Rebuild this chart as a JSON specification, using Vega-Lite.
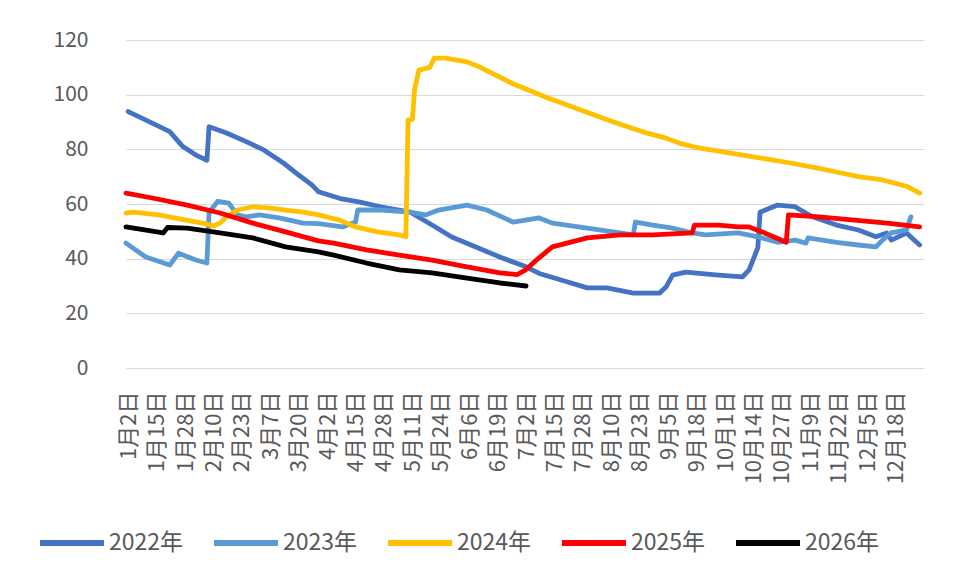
{
  "$schema": "https://vega.github.io/schema/vega-lite/v6.json",
  "autosize": {"type": "none"},
  "width": 798,
  "height": 328,
  "padding": {"left": 126, "top": 40, "right": 36, "bottom": 217},
  "background": "white",
  "config": {
    "view": {"stroke": null},
    "font": "Noto Sans CJK SC"
  },
  "data": {
    "values": [
      {"d": "2024-01-02", "s": "2022年", "v": 93.8},
      {"d": "2024-01-13", "s": "2022年", "v": 89.6},
      {"d": "2024-01-21", "s": "2022年", "v": 86.5},
      {"d": "2024-01-27", "s": "2022年", "v": 81.0},
      {"d": "2024-02-02", "s": "2022年", "v": 77.9},
      {"d": "2024-02-07", "s": "2022年", "v": 76.0},
      {"d": "2024-02-08", "s": "2022年", "v": 88.3},
      {"d": "2024-02-16", "s": "2022年", "v": 86.0},
      {"d": "2024-02-25", "s": "2022年", "v": 82.8},
      {"d": "2024-03-04", "s": "2022年", "v": 79.8},
      {"d": "2024-03-13", "s": "2022年", "v": 75.0},
      {"d": "2024-03-20", "s": "2022年", "v": 70.6},
      {"d": "2024-03-26", "s": "2022年", "v": 67.0},
      {"d": "2024-03-29", "s": "2022年", "v": 64.5},
      {"d": "2024-04-08", "s": "2022年", "v": 62.0},
      {"d": "2024-04-17", "s": "2022年", "v": 60.7},
      {"d": "2024-04-27", "s": "2022年", "v": 58.9},
      {"d": "2024-05-10", "s": "2022年", "v": 57.0},
      {"d": "2024-05-20", "s": "2022年", "v": 52.3},
      {"d": "2024-05-29", "s": "2022年", "v": 47.9},
      {"d": "2024-06-09", "s": "2022年", "v": 44.3},
      {"d": "2024-06-20", "s": "2022年", "v": 40.6},
      {"d": "2024-07-02", "s": "2022年", "v": 37.0},
      {"d": "2024-07-08", "s": "2022年", "v": 34.6},
      {"d": "2024-07-18", "s": "2022年", "v": 32.2},
      {"d": "2024-07-30", "s": "2022年", "v": 29.3},
      {"d": "2024-08-08", "s": "2022年", "v": 29.3},
      {"d": "2024-08-20", "s": "2022年", "v": 27.4},
      {"d": "2024-09-01", "s": "2022年", "v": 27.4},
      {"d": "2024-09-04", "s": "2022年", "v": 29.6},
      {"d": "2024-09-07", "s": "2022年", "v": 34.0},
      {"d": "2024-09-13", "s": "2022年", "v": 35.1},
      {"d": "2024-09-28", "s": "2022年", "v": 34.0},
      {"d": "2024-10-09", "s": "2022年", "v": 33.3},
      {"d": "2024-10-12", "s": "2022年", "v": 35.9},
      {"d": "2024-10-16", "s": "2022年", "v": 44.0},
      {"d": "2024-10-17", "s": "2022年", "v": 57.0},
      {"d": "2024-10-25", "s": "2022年", "v": 59.6},
      {"d": "2024-11-02", "s": "2022年", "v": 59.0},
      {"d": "2024-11-10", "s": "2022年", "v": 55.3},
      {"d": "2024-11-21", "s": "2022年", "v": 52.3},
      {"d": "2024-12-01", "s": "2022年", "v": 50.5},
      {"d": "2024-12-09", "s": "2022年", "v": 48.0},
      {"d": "2024-12-14", "s": "2022年", "v": 49.4},
      {"d": "2024-12-16", "s": "2022年", "v": 46.8},
      {"d": "2024-12-23", "s": "2022年", "v": 49.4},
      {"d": "2024-12-29", "s": "2022年", "v": 45.0},

      {"d": "2024-01-01", "s": "2023年", "v": 45.7},
      {"d": "2024-01-10", "s": "2023年", "v": 40.6},
      {"d": "2024-01-21", "s": "2023年", "v": 37.7},
      {"d": "2024-01-25", "s": "2023年", "v": 42.0},
      {"d": "2024-02-02", "s": "2023年", "v": 39.5},
      {"d": "2024-02-07", "s": "2023年", "v": 38.4},
      {"d": "2024-02-08", "s": "2023年", "v": 57.0},
      {"d": "2024-02-12", "s": "2023年", "v": 61.0},
      {"d": "2024-02-17", "s": "2023年", "v": 60.3},
      {"d": "2024-02-21", "s": "2023年", "v": 56.0},
      {"d": "2024-02-25", "s": "2023年", "v": 55.3},
      {"d": "2024-03-02", "s": "2023年", "v": 56.0},
      {"d": "2024-03-11", "s": "2023年", "v": 54.9},
      {"d": "2024-03-22", "s": "2023年", "v": 53.0},
      {"d": "2024-03-29", "s": "2023年", "v": 52.8},
      {"d": "2024-04-09", "s": "2023年", "v": 51.6},
      {"d": "2024-04-15", "s": "2023年", "v": 53.4},
      {"d": "2024-04-16", "s": "2023年", "v": 57.8},
      {"d": "2024-04-27", "s": "2023年", "v": 57.8},
      {"d": "2024-05-10", "s": "2023年", "v": 57.0},
      {"d": "2024-05-17", "s": "2023年", "v": 56.0},
      {"d": "2024-05-23", "s": "2023年", "v": 57.8},
      {"d": "2024-06-05", "s": "2023年", "v": 59.6},
      {"d": "2024-06-14", "s": "2023年", "v": 57.8},
      {"d": "2024-06-26", "s": "2023年", "v": 53.4},
      {"d": "2024-07-08", "s": "2023年", "v": 54.9},
      {"d": "2024-07-14", "s": "2023年", "v": 53.0},
      {"d": "2024-07-30", "s": "2023年", "v": 51.2},
      {"d": "2024-08-14", "s": "2023年", "v": 49.4},
      {"d": "2024-08-20", "s": "2023年", "v": 48.7},
      {"d": "2024-08-21", "s": "2023年", "v": 53.4},
      {"d": "2024-08-29", "s": "2023年", "v": 52.3},
      {"d": "2024-09-07", "s": "2023年", "v": 51.2},
      {"d": "2024-09-16", "s": "2023年", "v": 49.4},
      {"d": "2024-09-22", "s": "2023年", "v": 48.7},
      {"d": "2024-10-07", "s": "2023年", "v": 49.4},
      {"d": "2024-10-16", "s": "2023年", "v": 48.0},
      {"d": "2024-10-25", "s": "2023年", "v": 46.0},
      {"d": "2024-11-02", "s": "2023年", "v": 46.8},
      {"d": "2024-11-07", "s": "2023年", "v": 45.7},
      {"d": "2024-11-08", "s": "2023年", "v": 47.6},
      {"d": "2024-11-21", "s": "2023年", "v": 46.0},
      {"d": "2024-12-01", "s": "2023年", "v": 45.0},
      {"d": "2024-12-09", "s": "2023年", "v": 44.3},
      {"d": "2024-12-12", "s": "2023年", "v": 46.8},
      {"d": "2024-12-16", "s": "2023年", "v": 49.4},
      {"d": "2024-12-23", "s": "2023年", "v": 50.5},
      {"d": "2024-12-25", "s": "2023年", "v": 55.3},

      {"d": "2024-01-01", "s": "2024年", "v": 56.7},
      {"d": "2024-01-04", "s": "2024年", "v": 57.0},
      {"d": "2024-01-16", "s": "2024年", "v": 56.0},
      {"d": "2024-01-29", "s": "2024年", "v": 54.0},
      {"d": "2024-02-05", "s": "2024年", "v": 53.0},
      {"d": "2024-02-10", "s": "2024年", "v": 52.0},
      {"d": "2024-02-13", "s": "2024年", "v": 53.0},
      {"d": "2024-02-16", "s": "2024年", "v": 55.3},
      {"d": "2024-02-21", "s": "2024年", "v": 57.8},
      {"d": "2024-02-28", "s": "2024年", "v": 59.0},
      {"d": "2024-03-07", "s": "2024年", "v": 58.5},
      {"d": "2024-03-14", "s": "2024年", "v": 57.8},
      {"d": "2024-03-22", "s": "2024年", "v": 57.0},
      {"d": "2024-03-29", "s": "2024年", "v": 56.0},
      {"d": "2024-04-08", "s": "2024年", "v": 54.0},
      {"d": "2024-04-15", "s": "2024年", "v": 51.6},
      {"d": "2024-04-25", "s": "2024年", "v": 49.8},
      {"d": "2024-05-05", "s": "2024年", "v": 48.7},
      {"d": "2024-05-08", "s": "2024年", "v": 48.0},
      {"d": "2024-05-09", "s": "2024年", "v": 90.7},
      {"d": "2024-05-11", "s": "2024年", "v": 91.0},
      {"d": "2024-05-12", "s": "2024年", "v": 102.0},
      {"d": "2024-05-14", "s": "2024年", "v": 109.0},
      {"d": "2024-05-19", "s": "2024年", "v": 110.0},
      {"d": "2024-05-21", "s": "2024年", "v": 113.4},
      {"d": "2024-05-26", "s": "2024年", "v": 113.4},
      {"d": "2024-06-05", "s": "2024年", "v": 112.0},
      {"d": "2024-06-11", "s": "2024年", "v": 110.0},
      {"d": "2024-06-26", "s": "2024年", "v": 104.0},
      {"d": "2024-07-12", "s": "2024年", "v": 98.8},
      {"d": "2024-07-27", "s": "2024年", "v": 94.4},
      {"d": "2024-08-11", "s": "2024年", "v": 90.0},
      {"d": "2024-08-26", "s": "2024年", "v": 86.0},
      {"d": "2024-09-04", "s": "2024年", "v": 84.1},
      {"d": "2024-09-10", "s": "2024年", "v": 82.3},
      {"d": "2024-09-19", "s": "2024年", "v": 80.5},
      {"d": "2024-10-12", "s": "2024年", "v": 77.5},
      {"d": "2024-10-31", "s": "2024年", "v": 75.0},
      {"d": "2024-11-13", "s": "2024年", "v": 73.0},
      {"d": "2024-11-21", "s": "2024年", "v": 71.7},
      {"d": "2024-12-01", "s": "2024年", "v": 70.0},
      {"d": "2024-12-12", "s": "2024年", "v": 68.8},
      {"d": "2024-12-23", "s": "2024年", "v": 66.5},
      {"d": "2024-12-29", "s": "2024年", "v": 64.0},

      {"d": "2024-01-01", "s": "2025年", "v": 64.0},
      {"d": "2024-01-13", "s": "2025年", "v": 62.2},
      {"d": "2024-01-29", "s": "2025年", "v": 59.6},
      {"d": "2024-02-13", "s": "2025年", "v": 56.7},
      {"d": "2024-02-28", "s": "2025年", "v": 53.0},
      {"d": "2024-03-14", "s": "2025年", "v": 49.8},
      {"d": "2024-03-29", "s": "2025年", "v": 46.5},
      {"d": "2024-04-05", "s": "2025年", "v": 45.7},
      {"d": "2024-04-20", "s": "2025年", "v": 43.2},
      {"d": "2024-05-05", "s": "2025年", "v": 41.3},
      {"d": "2024-05-20", "s": "2025年", "v": 39.5},
      {"d": "2024-06-05", "s": "2025年", "v": 37.0},
      {"d": "2024-06-20", "s": "2025年", "v": 34.8},
      {"d": "2024-06-28", "s": "2025年", "v": 34.2},
      {"d": "2024-07-02", "s": "2025年", "v": 36.0},
      {"d": "2024-07-06", "s": "2025年", "v": 39.0},
      {"d": "2024-07-14", "s": "2025年", "v": 44.3},
      {"d": "2024-07-30", "s": "2025年", "v": 47.6},
      {"d": "2024-08-14", "s": "2025年", "v": 48.7},
      {"d": "2024-08-29", "s": "2025年", "v": 48.7},
      {"d": "2024-09-16", "s": "2025年", "v": 49.4},
      {"d": "2024-09-17", "s": "2025年", "v": 52.3},
      {"d": "2024-09-28", "s": "2025年", "v": 52.3},
      {"d": "2024-10-07", "s": "2025年", "v": 51.6},
      {"d": "2024-10-12", "s": "2025年", "v": 51.6},
      {"d": "2024-10-18", "s": "2025年", "v": 49.8},
      {"d": "2024-10-29", "s": "2025年", "v": 46.0},
      {"d": "2024-10-30", "s": "2025年", "v": 56.0},
      {"d": "2024-11-13", "s": "2025年", "v": 55.3},
      {"d": "2024-11-28", "s": "2025年", "v": 54.2},
      {"d": "2024-12-14", "s": "2025年", "v": 53.0},
      {"d": "2024-12-29", "s": "2025年", "v": 51.6},

      {"d": "2024-01-01", "s": "2026年", "v": 51.6},
      {"d": "2024-01-18", "s": "2026年", "v": 49.4},
      {"d": "2024-01-20", "s": "2026年", "v": 51.4},
      {"d": "2024-01-29", "s": "2026年", "v": 51.2},
      {"d": "2024-02-13", "s": "2026年", "v": 49.4},
      {"d": "2024-02-28", "s": "2026年", "v": 47.6},
      {"d": "2024-03-14", "s": "2026年", "v": 44.3},
      {"d": "2024-03-29", "s": "2026年", "v": 42.5},
      {"d": "2024-04-05", "s": "2026年", "v": 41.3},
      {"d": "2024-04-20", "s": "2026年", "v": 38.4},
      {"d": "2024-05-05", "s": "2026年", "v": 35.9},
      {"d": "2024-05-20", "s": "2026年", "v": 34.8},
      {"d": "2024-06-05", "s": "2026年", "v": 32.9},
      {"d": "2024-06-20", "s": "2026年", "v": 31.1},
      {"d": "2024-07-02", "s": "2026年", "v": 30.0}
    ]
  },
  "mark": {"type": "line", "strokeWidth": 4.8, "strokeCap": "round", "strokeJoin": "round"},
  "encoding": {
    "x": {
      "field": "d",
      "type": "temporal",
      "scale": {
        "type": "utc",
        "domain": [
          {"year": 2024, "month": 1, "date": 1, "utc": true},
          {"year": 2024, "month": 12, "date": 31, "utc": true}
        ]
      },
      "axis": {
        "title": null,
        "domain": false,
        "ticks": false,
        "grid": false,
        "labelAngle": -90,
        "labelFontSize": 22,
        "labelColor": "#595959",
        "labelPadding": 23,
        "labelOverlap": false,
        "labelFlush": false,
        "labelExpr": "utcFormat(datum.value, '%-m月%-d日')",
        "values": [
          {"year": 2024, "month": 1, "date": 2, "utc": true},
          {"year": 2024, "month": 1, "date": 15, "utc": true},
          {"year": 2024, "month": 1, "date": 28, "utc": true},
          {"year": 2024, "month": 2, "date": 10, "utc": true},
          {"year": 2024, "month": 2, "date": 23, "utc": true},
          {"year": 2024, "month": 3, "date": 7, "utc": true},
          {"year": 2024, "month": 3, "date": 20, "utc": true},
          {"year": 2024, "month": 4, "date": 2, "utc": true},
          {"year": 2024, "month": 4, "date": 15, "utc": true},
          {"year": 2024, "month": 4, "date": 28, "utc": true},
          {"year": 2024, "month": 5, "date": 11, "utc": true},
          {"year": 2024, "month": 5, "date": 24, "utc": true},
          {"year": 2024, "month": 6, "date": 6, "utc": true},
          {"year": 2024, "month": 6, "date": 19, "utc": true},
          {"year": 2024, "month": 7, "date": 2, "utc": true},
          {"year": 2024, "month": 7, "date": 15, "utc": true},
          {"year": 2024, "month": 7, "date": 28, "utc": true},
          {"year": 2024, "month": 8, "date": 10, "utc": true},
          {"year": 2024, "month": 8, "date": 23, "utc": true},
          {"year": 2024, "month": 9, "date": 5, "utc": true},
          {"year": 2024, "month": 9, "date": 18, "utc": true},
          {"year": 2024, "month": 10, "date": 1, "utc": true},
          {"year": 2024, "month": 10, "date": 14, "utc": true},
          {"year": 2024, "month": 10, "date": 27, "utc": true},
          {"year": 2024, "month": 11, "date": 9, "utc": true},
          {"year": 2024, "month": 11, "date": 22, "utc": true},
          {"year": 2024, "month": 12, "date": 5, "utc": true},
          {"year": 2024, "month": 12, "date": 18, "utc": true}
        ]
      }
    },
    "y": {
      "field": "v",
      "type": "quantitative",
      "scale": {"domain": [0, 120], "nice": false},
      "axis": {
        "title": null,
        "values": [0, 20, 40, 60, 80, 100, 120],
        "domain": false,
        "ticks": false,
        "gridColor": "#d9d9d9",
        "gridWidth": 1.2,
        "labelFontSize": 21,
        "labelColor": "#595959",
        "labelPadding": 38
      }
    },
    "color": {
      "field": "s",
      "type": "nominal",
      "scale": {
        "domain": ["2022年", "2023年", "2024年", "2025年", "2026年"],
        "range": ["#4472C4", "#5B9BD5", "#FFC000", "#FF0000", "#000000"]
      },
      "legend": {
        "title": null,
        "orient": "none",
        "direction": "horizontal",
        "legendX": -89,
        "legendY": 468,
        "symbolType": "stroke",
        "symbolSize": 4096,
        "symbolStrokeWidth": 6,
        "labelFontSize": 23,
        "labelColor": "#595959",
        "labelOffset": 2,
        "columnPadding": 18
      }
    }
  }
}
